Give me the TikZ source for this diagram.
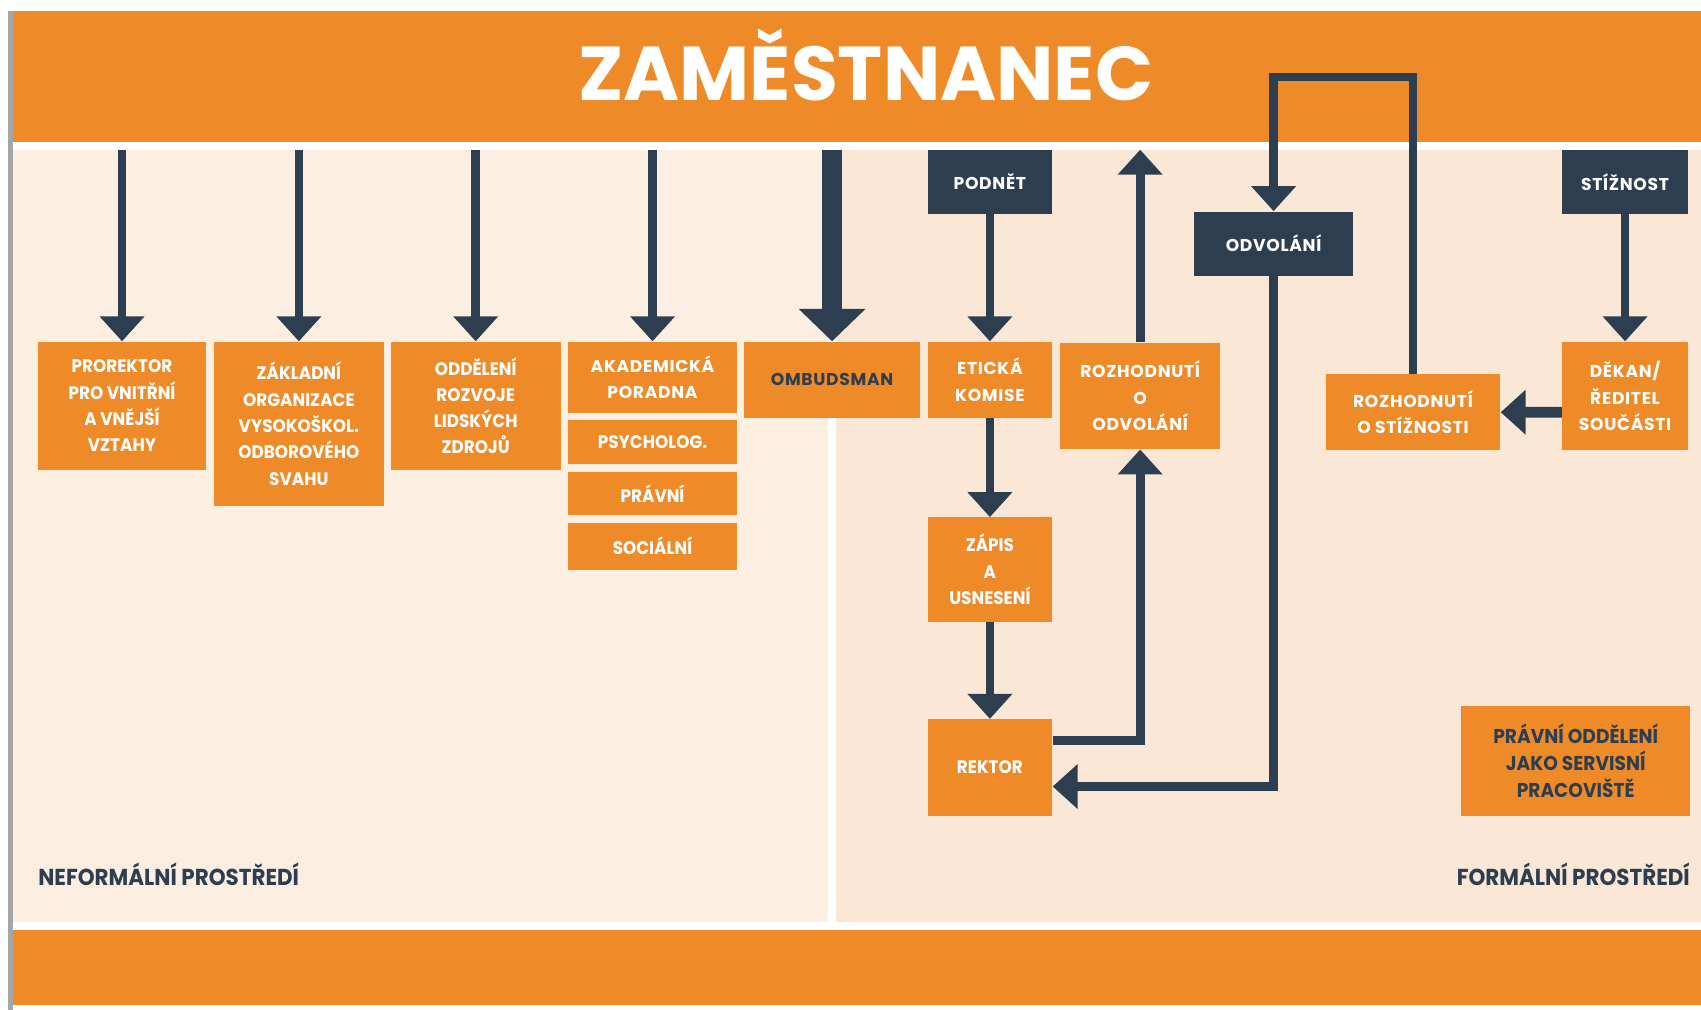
\documentclass[tikz,border=0pt]{standalone}
\usepackage{fontspec}
\setmainfont{Poppins}
\newfontfamily\narrowfont{Poppins}[FakeStretch=0.93]
\newfontfamily\widefont{Poppins}[LetterSpace=4]
\definecolor{uorange}{RGB}{239,138,40}
\definecolor{unavy}{RGB}{45,62,80}
\definecolor{ulight}{RGB}{252,239,226}
\definecolor{ulight2}{RGB}{250,231,213}
\usetikzlibrary{arrows.meta,positioning}

\begin{document}
\begin{tikzpicture}[x=0.2mm,y=-0.2mm,
  box/.style={fill=uorange,inner sep=0pt,align=center,text=white,font=\narrowfont\bfseries\fontsize{9.5}{13.8}\selectfont},
  dark/.style={box,fill=unavy},
  wide/.style={font=\widefont\bfseries\fontsize{9}{13.8}\selectfont},
  flow/.style={draw=unavy,line width=0.16cm,-{Triangle[width=0.8cm,length=0.46cm]}},
  bigflow/.style={flow,line width=0.36cm,-{Triangle[width=1.2cm,length=0.6cm]}},
  prostr/.style={text=unavy,inner sep=0pt,font=\narrowfont\bfseries\fontsize{12.1}{14}\selectfont}]
  % background and bands
  \fill[white] (0,0) rectangle (1568,931);
  \fill[gray!70] (7,10) rectangle (12,931);
  \fill[uorange] (12,10) rectangle (1568,131);
  \fill[ulight] (12,138) rectangle (763,850);
  \fill[ulight2] (771,138) rectangle (1568,850);
  \fill[uorange] (12,857) rectangle (1568,926);
  \coordinate (ptop) at (0,138);
  \coordinate (loop) at (0,71);
  \node[text=white,font=\bfseries\fontsize{40}{40}\selectfont,anchor=base] (titul) at (798,93) {ZAMĚSTNANEC};
  % neformalni strana
  \node[box,minimum width=3.1cm,minimum height=2.36cm] (pror) at (112.5,374) {PROREKTOR\\PRO VNITŘNÍ\\A VNĚJŠÍ\\VZTAHY};
  \node[box,minimum width=3.14cm,minimum height=3.02cm] (zakl) at (275.5,390.5) {ZÁKLADNÍ\\ORGANIZACE\\VYSOKOŠKOL.\\ODBOROVÉHO\\SVAHU};
  \node[box,minimum width=3.14cm,minimum height=2.36cm] (oddel) at (438.5,374) {ODDĚLENÍ\\ROZVOJE\\LIDSKÝCH\\ZDROJŮ};
  \node[box,wide,minimum width=3.1cm,minimum height=1.32cm] (akad) at (601.5,348) {AKADEMICKÁ\\PORADNA};
  \node[box,minimum width=3.1cm,minimum height=0.82cm] (psych) at (601.5,407.5) {PSYCHOLOG.};
  \node[box,minimum width=3.1cm,minimum height=0.8cm] (prav) at (601.5,455) {PRÁVNÍ};
  \node[box,minimum width=3.1cm,minimum height=0.86cm] (soc) at (601.5,503.5) {SOCIÁLNÍ};
  \node[box,wide,text=unavy,minimum width=3.24cm,minimum height=1.4cm] (omb) at (767,350) {OMBUDSMAN};
  \foreach \n in {pror,zakl,oddel,akad}
    \draw[flow] (\n.north |- ptop) -- (\n.north);
  \draw[bigflow] (omb.north |- ptop) -- (omb.north);
  % formalni strana
  \node[dark,wide,minimum width=2.3cm,minimum height=1.18cm] (podnet) at (912.5,167.5) {PODNĚT};
  \node[box,wide,minimum width=2.3cm,minimum height=1.4cm] (etic) at (912.5,350) {ETICKÁ\\KOMISE};
  \node[box,minimum width=2.3cm,minimum height=1.92cm] (zapis) at (912.5,525) {ZÁPIS\\A\\USNESENÍ};
  \node[box,minimum width=2.3cm,minimum height=1.78cm] (rektor) at (912.5,707.5) {REKTOR};
  \node[box,wide,minimum width=2.96cm,minimum height=1.96cm] (rozodv) at (1051,365) {ROZHODNUTÍ\\O\\ODVOLÁNÍ};
  \node[dark,wide,minimum width=2.92cm,minimum height=1.18cm] (odvol) at (1174,224.5) {ODVOLÁNÍ};
  \node[box,wide,minimum width=3.22cm,minimum height=1.4cm] (rozst) at (1302.5,380) {ROZHODNUTÍ\\O STÍŽNOSTI};
  \node[dark,wide,minimum width=2.32cm,minimum height=1.18cm] (stiz) at (1498,167.5) {STÍŽNOST};
  \node[box,wide,minimum width=2.32cm,minimum height=2cm] (dekan) at (1498,365) {DĚKAN/\\ŘEDITEL\\SOUČÁSTI};
  \node[box,text=unavy,font=\narrowfont\bfseries\fontsize{10.5}{14.2}\selectfont,minimum width=4.22cm,minimum height=2.02cm] (pravod) at (1452.5,701.5) {PRÁVNÍ ODDĚLENÍ\\JAKO SERVISNÍ\\PRACOVIŠTĚ};
  \draw[flow] (podnet) -- (etic);
  \draw[flow] (etic) -- (zapis);
  \draw[flow] (zapis) -- (rektor);
  \draw[flow] ([yshift=0.5cm]rektor.east) -| (rozodv.south);
  \draw[flow] (rozodv.north) -- (rozodv.north |- ptop);
  \draw[flow] (rozst.north) -- (rozst.north |- loop) -| (odvol.north);
  \draw[flow] (odvol.south) |- ([yshift=-0.35cm]rektor.east);
  \draw[flow] (stiz) -- (dekan);
  \draw[flow,line width=0.2cm] ([yshift=-0.3cm]dekan.west) -- (rozst.east);
  % popisky prostredi
  \node[prostr,anchor=base west] (neform) at (35,816) {NEFORMÁLNÍ PROSTŘEDÍ};
  \node[prostr,anchor=base east] (form) at (1558,816) {FORMÁLNÍ PROSTŘEDÍ};
\end{tikzpicture}
\end{document}
